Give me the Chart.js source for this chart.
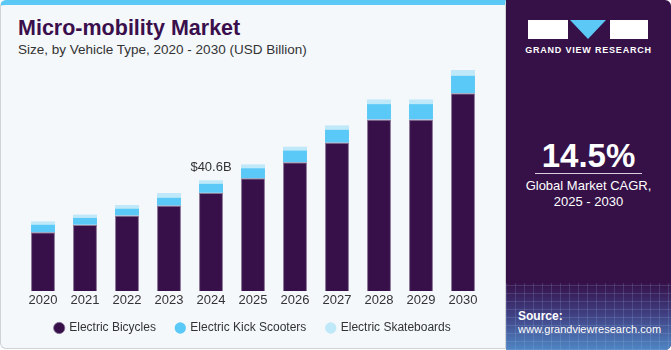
<!DOCTYPE html>
<html>
<head>
<meta charset="utf-8">
<script src="https://cdn.jsdelivr.net/npm/chart.js@4"></script>
<style>
  body { margin: 0; width: 671px; height: 350px; background: #fff; overflow: hidden; font-family: "Liberation Sans", Arial, sans-serif; }
  #card { position: absolute; left: 0; top: 0; width: 504px; height: 343px; background: #f4f8fb; border: 1px solid #cfd3d6; border-top: 5px solid #5bc8f5; border-radius: 6px 0 0 6px; }
  #title { position: absolute; left: 18px; top: 16px; font-size: 21.5px; font-weight: bold; color: #3a0f4c; }
  #subtitle { position: absolute; left: 18px; top: 42px; font-size: 13.5px; color: #333; }
  #chartbox { position: absolute; left: 0; top: 0; width: 505px; height: 350px; }
  #panel { position: absolute; left: 506px; top: 0; width: 165px; height: 350px; background: #361148; border-radius: 0 6px 6px 0; overflow: hidden; }
  #grid { position: absolute; left: 0; top: 283px; width: 165px; height: 67px;
    background:
      repeating-linear-gradient(90deg, rgba(160,190,230,0.18) 0 1px, transparent 1px 9px),
      repeating-linear-gradient(0deg, rgba(160,190,230,0.18) 0 1px, transparent 1px 8px),
      linear-gradient(180deg, #361148 0%, #3f3d80 45%, #4f86c4 100%); }
  .w { position: absolute; color: #fff; text-align: center; }
</style>
</head>
<body>
<div id="card"></div>
<div id="title">Micro-mobility Market</div>
<div id="subtitle">Size, by Vehicle Type, 2020 - 2030 (USD Billion)</div>
<div id="chartbox"><canvas id="c" width="505" height="350"></canvas></div>
<div id="panel">
  <div style="position:absolute;left:22px;top:20px;width:40px;height:19px;background:#fff;"></div>
  <div style="position:absolute;left:64px;top:20px;width:0;height:0;border-left:18px solid transparent;border-right:18px solid transparent;border-top:19px solid #5bc8f5;"></div>
  <div style="position:absolute;left:104px;top:20px;width:38px;height:19px;background:#fff;"></div>
  <div class="w" style="left:0;width:165px;top:45px;font-size:9px;font-weight:bold;letter-spacing:0.8px;">GRAND VIEW RESEARCH</div>
  <div class="w" style="left:0;width:165px;top:137px;font-size:33px;font-weight:bold;">14.5%</div>
  <div style="position:absolute;left:29px;top:173px;width:107px;height:1px;background:#d8cfe0;"></div>
  <div class="w" style="left:0;width:165px;top:178px;font-size:13px;line-height:16px;">Global Market CAGR,<br>2025 - 2030</div>
  <div id="grid"></div>
  <div class="w" style="left:12px;top:309px;font-size:12px;font-weight:bold;text-align:left;">Source:</div>
  <div class="w" style="left:12px;top:323px;font-size:11px;text-align:left;">www.grandviewresearch.com</div>
</div>
<script>
const years = ['2020', '2021', '2022', '2023', '2024', '2025', '2026', '2027', '2028', '2029', '2030'];
const bicycles = [21.5, 24.3, 27.7, 31.3, 36.0, 41.3, 47.2, 54.4, 62.9, 62.9, 72.5];
const kickScooters = [2.8, 2.5, 2.5, 2.9, 3.3, 3.7, 4.3, 4.7, 5.6, 5.6, 6.4];
const skateboards = [1.2, 1.2, 1.3, 1.7, 1.3, 1.4, 1.4, 1.6, 1.7, 1.7, 2.1];
const labelIndex = 4;
const labelText = '$40.6B';

// label over the 2024 stack
const totalLabel = {
  id: 'totalLabel',
  afterDatasetsDraw(chart) {
    const { ctx, scales } = chart;
    const total = bicycles[labelIndex] + kickScooters[labelIndex] + skateboards[labelIndex];
    const x = scales.x.getPixelForValue(labelIndex);
    const y = scales.y.getPixelForValue(total);
    ctx.save();
    ctx.font = '13px "Liberation Sans", Arial, sans-serif';
    ctx.fillStyle = '#333';
    ctx.textAlign = 'center';
    ctx.textBaseline = 'bottom';
    ctx.fillText(labelText, x, y - 6);
    ctx.restore();
  }
};

new Chart(document.getElementById('c').getContext('2d'), {
  type: 'bar',
  data: {
    labels: years,
    datasets: [
      { label: 'Electric Bicycles', data: bicycles, backgroundColor: '#37104a', borderColor: '#8a7596', borderWidth: { left: 1, right: 1, top: 1 } },
      { label: 'Electric Kick Scooters', data: kickScooters, backgroundColor: '#5bc9f7' },
      { label: 'Electric Skateboards', data: skateboards, backgroundColor: '#bfe8f9' },
    ],
  },
  options: {
    responsive: false,
    animation: false,
    layout: { padding: { left: 22, right: 21, top: 61, bottom: 6 } },
    datasets: { bar: { categoryPercentage: 1, barPercentage: 0.57 } },
    scales: {
      x: {
        stacked: true,
        grid: { display: false, drawTicks: false },
        border: { display: false },
        ticks: { color: '#333', font: { size: 13, lineHeight: 1, family: '"Liberation Sans", Arial, sans-serif' }, padding: 3 },
      },
      y: { stacked: true, display: false, min: 0, max: 84.3 },
    },
    plugins: {
      legend: {
        position: 'bottom',
        labels: {
          usePointStyle: true,
          pointStyle: 'circle',
          boxWidth: 8,
          boxHeight: 8,
          padding: 12,
          color: '#333',
          font: { size: 12, family: '"Liberation Sans", Arial, sans-serif' },
          // small vertical padding, wider gaps between items
          generateLabels(chart) {
            const items = Chart.defaults.plugins.legend.labels.generateLabels(chart);
            return items.map((item, i) => ({ ...item, text: i < items.length - 1 ? item.text + '\u2002\u2009' : item.text }));
          },
        },
      },
      tooltip: { enabled: false },
    },
  },
  plugins: [totalLabel],
});
</script>
</body>
</html>
